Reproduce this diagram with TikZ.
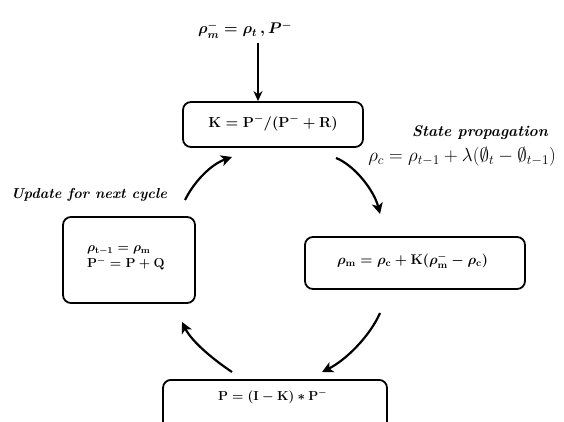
\documentclass[tikz,border=0pt]{standalone}
\usepackage{fix-cm}
\usepackage{amsmath,amssymb,bm}
\usetikzlibrary{arrows.meta}
\begin{document}
\begin{tikzpicture}[x=1pt,y=-1pt,
  rbox/.style={draw, line width=1.8pt, rounded corners=8pt, inner sep=0pt},
  cyc/.style={line width=2.2pt, -{Stealth[length=11pt,width=11pt,inset=3pt]}},
  lbl/.style={inner sep=0pt, font=\fontsize{#1}{17}\selectfont\bfseries\itshape},
  mth/.style={inner sep=0pt, font=\fontsize{#1}{16}\selectfont\boldmath},
]
\useasboundingbox (0,0) rectangle (564,422);
\clip (0,0) rectangle (564,422);
% top input
\node[mth=15.5] (in) at (245,30) {$\rho^-_m = \rho_t\,, P^-$};
% boxes
\node[rbox, minimum width=180, minimum height=45] (kbox) at (273,124.5) {};
\node[mth=14.5] (ktxt) at (273,123) {$\mathbf{K = P^-/(P^- + R)}$};
\node[rbox, minimum width=220, minimum height=52] (mbox) at (415,263) {};
\node[mth=14] (mtxt) at (412.5,261) {$\rho_{\mathbf{m}} = \rho_{\mathbf{c}} + \mathbf{K}(\rho^-_{\mathbf{m}} - \rho_{\mathbf{c}})$};
\node[rbox, minimum width=224, minimum height=52, anchor=north] (pbox) at (275,379) {};
\node[mth=13] (ptxt) at (272.5,397) {$\mathbf{P = (I - K) * P^-}$};
\node[rbox, minimum width=132, minimum height=86] (ubox) at (129,260) {};
\node[mth=13, anchor=west] (utxt1) at (87,250) {$\rho_{\mathbf{t-1}} = \rho_{\mathbf{m}}$};
\node[mth=13, anchor=west] (utxt2) at (87,264) {$\mathbf{P^- = P + Q}$};
% labels
\node[lbl=15.4] (sp) at (480,133) {State propagation};
\node[inner sep=0pt, font=\fontsize{19}{21}\selectfont] (spf) at (462,157) {$\rho_c = \rho_{t-1} + \lambda(\emptyset_t - \emptyset_{t-1})$};
\node[lbl=14.4] (up) at (89,195) {Update for next cycle};
% arrows
\coordinate (tin) at (258,43);
\draw[line width=1.8pt, -{Stealth[length=10pt,width=9pt]}] (tin) -- (tin |- kbox.north);
\coordinate (a1s) at (336,158); \coordinate (a1e) at (380,214);
\coordinate (a2s) at (380,313); \coordinate (a2e) at (322,372);
\coordinate (a3s) at (232,372); \coordinate (a3e) at (182,322);
\coordinate (a4s) at (185,200); \coordinate (a4e) at (232,157);
\draw[cyc] (a1s) .. controls (354,165) and (374,190) .. (a1e);
\draw[cyc] (a2s) .. controls (370,336) and (346,360) .. (a2e);
\draw[cyc] (a3s) .. controls (214,360) and (192,342) .. (a3e);
\draw[cyc] (a4s) .. controls (195,180) and (212,164) .. (a4e);
\end{tikzpicture}
\end{document}
